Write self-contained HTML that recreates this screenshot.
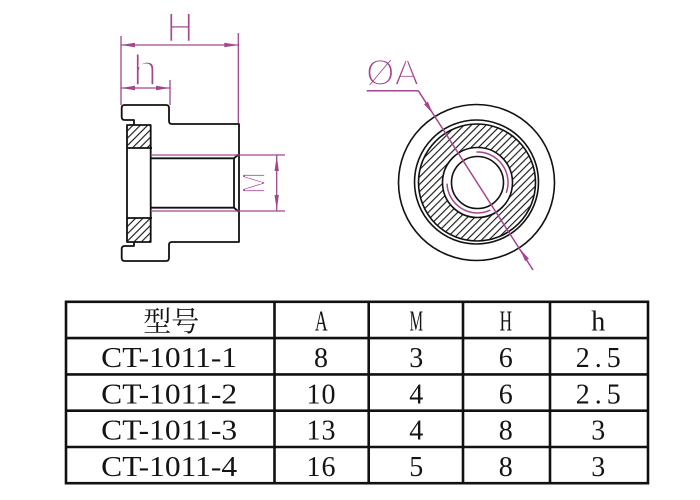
<!DOCTYPE html>
<html>
<head>
<meta charset="utf-8">
<style>
html,body{margin:0;padding:0;background:#fff;}
svg{display:block;}
.tt{font-family:"Liberation Serif","Noto Serif CJK SC",serif;font-size:28px;fill:#141414;text-anchor:middle;}
.dim{font-family:"Liberation Sans",sans-serif;fill:#a2468f;stroke:#fff;}
</style>
</head>
<body>
<svg width="700" height="500" viewBox="0 0 700 500" xmlns="http://www.w3.org/2000/svg">
<defs>
  <pattern id="hatch" patternUnits="userSpaceOnUse" width="5.2" height="10" patternTransform="rotate(45)">
    <line x1="0.6" y1="0" x2="0.6" y2="10" stroke="#111" stroke-width="1.1"/>
  </pattern>
</defs>

<!-- ===== LEFT VIEW ===== -->
<!-- labels (drawn first) -->
<text class="dim" x="180" y="42" font-size="42" stroke-width="2" text-anchor="middle" textLength="27" lengthAdjust="spacingAndGlyphs">H</text>
<text class="dim" x="145" y="85" font-size="44" stroke-width="2.1" text-anchor="middle">h</text>
<text class="dim" transform="translate(265,183) rotate(-90)" x="0" y="0" font-size="32" stroke-width="1.6" text-anchor="middle" textLength="22" lengthAdjust="spacingAndGlyphs">M</text>

<!-- hatched boxes -->
<rect x="127" y="125" width="23.7" height="23" fill="url(#hatch)"/>
<rect x="127" y="218" width="23.7" height="24" fill="url(#hatch)"/>

<g fill="none" stroke="#111" stroke-width="1.8" stroke-linejoin="round">
  <path d="M134,125 V120 H124.7 Q121.7,120 121.7,117 V108 Q121.7,105 124.7,105 H166 Q169,105 169,108 V121 Q169,124 172,124 H239 V242 H172 Q169,242 169,245 V258 Q169,261 166,261 H124.7 Q121.7,261 121.7,258 V249 Q121.7,246 124.7,246 H134 V242"/>
  <rect x="127" y="125" width="23.7" height="117"/>
  <line x1="127" y1="148" x2="152" y2="148"/>
  <line x1="127" y1="218" x2="152" y2="218"/>
  <!-- bore -->
  <line x1="150.7" y1="158.3" x2="234" y2="158.3"/>
  <line x1="150.7" y1="207.7" x2="234" y2="207.7"/>
  <line x1="234" y1="158.3" x2="234" y2="207.7"/>
  <line x1="234" y1="158.3" x2="238.5" y2="154.5"/>
  <line x1="234" y1="207.7" x2="238.5" y2="211.5"/>
</g>

<!-- magenta dimension lines, left view -->
<g stroke="#a2468f" stroke-width="1.3" fill="none">
  <line x1="121" y1="36" x2="121" y2="105"/>
  <line x1="238.3" y1="33" x2="238.3" y2="123"/>
  <line x1="170" y1="80" x2="170" y2="105"/>
  <line x1="121" y1="45" x2="238.3" y2="45"/>
  <line x1="121" y1="88" x2="170" y2="88"/>
  <line x1="150.7" y1="155" x2="285" y2="155"/>
  <line x1="150.7" y1="211" x2="285" y2="211"/>
  <line x1="276.7" y1="155" x2="276.7" y2="211"/>
</g>
<g fill="#a2468f">
  <polygon points="121,45 135,42.8 135,47.2"/>
  <polygon points="238.3,45 224.3,42.8 224.3,47.2"/>
  <polygon points="121,88 135,85.8 135,90.2"/>
  <polygon points="170,88 156,85.8 156,90.2"/>
  <polygon points="276.7,156 274.5,171 278.9,171"/>
  <polygon points="276.7,210 274.5,195 278.9,195"/>
</g>

<!-- ===== RIGHT VIEW ===== -->
<text class="dim" x="392.5" y="85" font-size="36" stroke-width="1.7" text-anchor="middle" textLength="53" lengthAdjust="spacingAndGlyphs">ØA</text>

<path d="M477,124 a58.5,58.5 0 1,0 0.01,0 Z M477,147.5 a35,35 0 1,0 0.01,0 Z" fill="url(#hatch)" fill-rule="evenodd" transform="translate(0,0)"/>

<g fill="none" stroke="#111" stroke-width="1.6">
  <circle cx="476.5" cy="182.5" r="78"/>
  <circle cx="476.5" cy="182" r="62"/>
  <circle cx="477" cy="182.5" r="58.5"/>
  <circle cx="477.5" cy="182.5" r="35"/>
  <circle cx="477.5" cy="182.5" r="26"/>
</g>
<g fill="none" stroke="#a2468f" stroke-width="1.5">
  <path d="M476.4,152 A30.5,30.5 0 0,1 506.2,192.9"/>
  <path d="M490.4,210.1 A30.5,30.5 0 0,1 447,183.6"/>
  <line x1="366.7" y1="90.7" x2="418.3" y2="90.7"/>
  <line x1="418.3" y1="90.7" x2="533" y2="270"/>
</g>
<g fill="#a2468f">
  <polygon points="433,114 427.9,101.8 424.05,104.3"/>
  <polygon points="520,249 528.95,258.69 525.09,261.17"/>
</g>

<!-- ===== TABLE ===== -->
<g stroke="#111" stroke-width="2.6" fill="none">
  <rect x="66" y="301.8" width="582" height="181.4"/>
  <line x1="66" y1="338.1" x2="648" y2="338.1"/>
  <line x1="66" y1="374.4" x2="648" y2="374.4"/>
  <line x1="66" y1="410.7" x2="648" y2="410.7"/>
  <line x1="66" y1="447" x2="648" y2="447"/>
  <line x1="274.5" y1="301.8" x2="274.5" y2="483.2"/>
  <line x1="368.7" y1="301.8" x2="368.7" y2="483.2"/>
  <line x1="463" y1="301.8" x2="463" y2="483.2"/>
  <line x1="550" y1="301.8" x2="550" y2="483.2"/>
</g>

<text class="tt" x="171.3" y="331" font-size="27" style="font-family:'Noto Serif CJK SC','Noto Sans CJK SC',serif;">型号</text>
<text class="tt" x="321.3" y="330.3" textLength="12.8" lengthAdjust="spacingAndGlyphs">A</text>
<text class="tt" x="416.3" y="330.3" textLength="13.4" lengthAdjust="spacingAndGlyphs">M</text>
<text class="tt" x="505.8" y="330.3" textLength="12.4" lengthAdjust="spacingAndGlyphs">H</text>
<text class="tt" x="598.3" y="330.3">h</text>

<text class="tt" x="169.2" y="367" textLength="136" lengthAdjust="spacingAndGlyphs">CT-1011-1</text>
<text class="tt" x="321" y="367">8</text>
<text class="tt" x="416.3" y="367">3</text>
<text class="tt" x="505.8" y="367">6</text>
<text class="tt" x="598.3" y="367" textLength="45" lengthAdjust="spacing">2.5</text>

<text class="tt" x="169.2" y="403.3" textLength="136" lengthAdjust="spacingAndGlyphs">CT-1011-2</text>
<text class="tt" x="321" y="403.3" textLength="29" lengthAdjust="spacing">10</text>
<text class="tt" x="416.3" y="403.3">4</text>
<text class="tt" x="505.8" y="403.3">6</text>
<text class="tt" x="598.3" y="403.3" textLength="45" lengthAdjust="spacing">2.5</text>

<text class="tt" x="169.2" y="439.6" textLength="136" lengthAdjust="spacingAndGlyphs">CT-1011-3</text>
<text class="tt" x="321" y="439.6" textLength="29" lengthAdjust="spacing">13</text>
<text class="tt" x="416.3" y="439.6">4</text>
<text class="tt" x="505.8" y="439.6">8</text>
<text class="tt" x="598.3" y="439.6">3</text>

<text class="tt" x="169.2" y="475.9" textLength="136" lengthAdjust="spacingAndGlyphs">CT-1011-4</text>
<text class="tt" x="321" y="475.9" textLength="29" lengthAdjust="spacing">16</text>
<text class="tt" x="416.3" y="475.9">5</text>
<text class="tt" x="505.8" y="475.9">8</text>
<text class="tt" x="598.3" y="475.9">3</text>
</svg>
</body>
</html>
